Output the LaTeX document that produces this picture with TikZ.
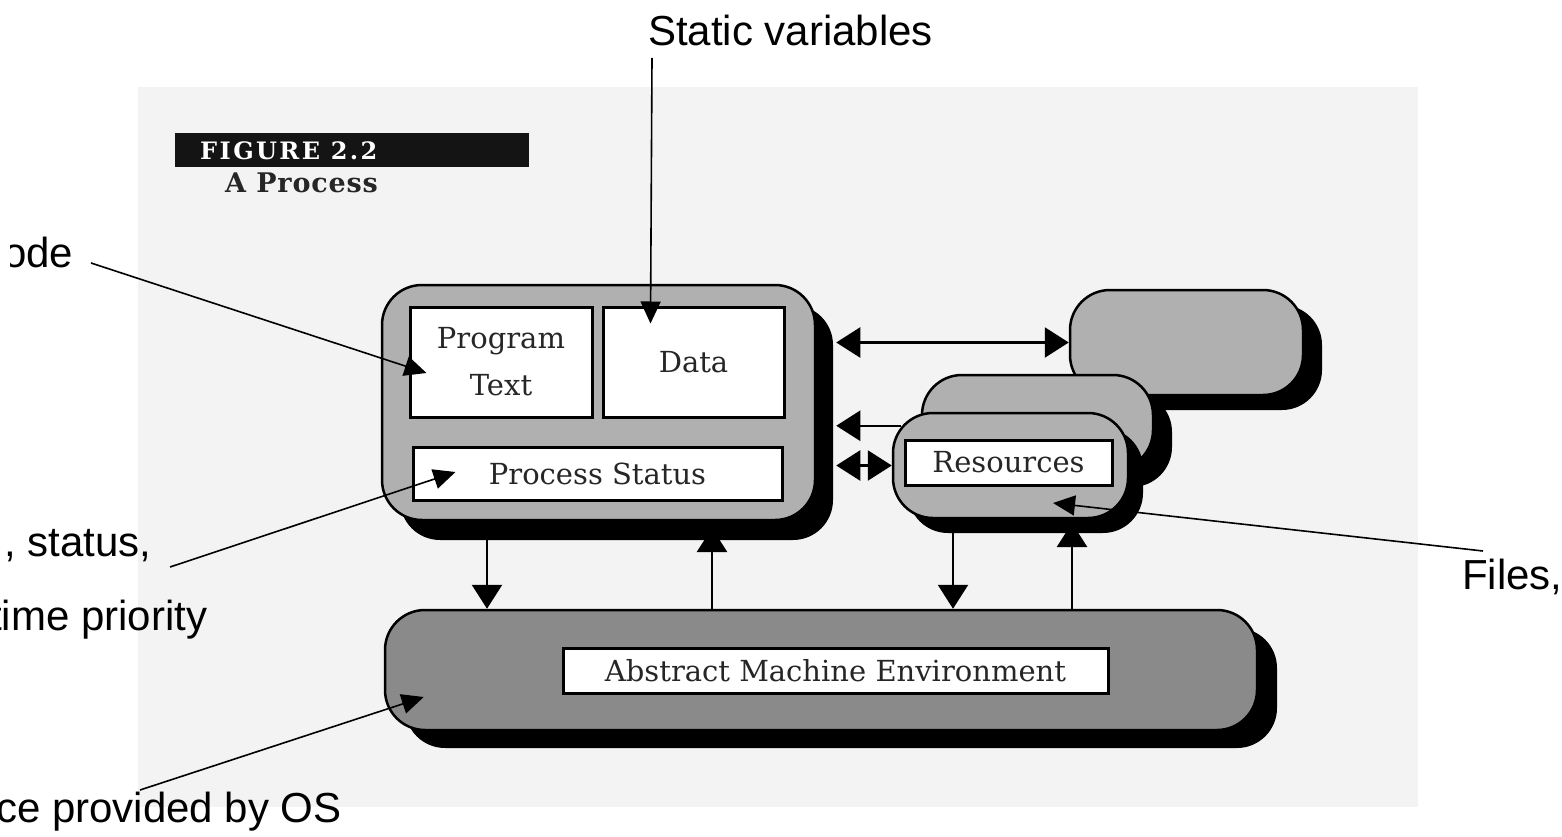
\documentclass[tikz,border=0pt]{standalone}
\usepackage{fontspec}
\usetikzlibrary{shadows,arrows.meta,calc}
\newfontfamily\annfont{Liberation Sans}
\newfontfamily\boxfont{DejaVu Serif}
\newfontfamily\slabfont[LetterSpace=10]{DejaVu Serif}
\newfontfamily\subfont[LetterSpace=3]{DejaVu Serif}
\definecolor{scanbg}{HTML}{F3F3F3}
\definecolor{lightblob}{HTML}{B0B0B0}
\definecolor{darkblob}{HTML}{8A8A8A}
\begin{document}
\begin{tikzpicture}[x=1pt,y=-1pt,
  blob/.style={draw=black, line width=2.5pt, rounded corners=40pt, inner sep=0pt},
  shadowed/.style n args={2}{drop shadow={shadow xshift=#1pt, shadow yshift=-#2pt, fill=black, opacity=1}},
  lab/.style={draw=black, line width=3pt, fill=white, inner sep=0pt, align=center,
              font=\boxfont\fontsize{29}{47}\selectfont, text=black!85},
  conn/.style={line width=2.5pt, -{Triangle[length=24pt,width=30pt]}},
  conntwo/.style={line width=2.5pt, {Triangle[length=24pt,width=30pt]}-{Triangle[length=24pt,width=30pt]}},
  annot/.style={inner sep=0pt, font=\annfont\fontsize{42}{50}\selectfont},
  annarrow/.style={line width=1.6pt, -{Triangle[length=22pt,width=20pt]}}
]
\useasboundingbox (0,0) rectangle (1562,837);
\clip (0,0) rectangle (1562,837);
\fill[white] (0,0) rectangle (1562,837);
\fill[scanbg] (138,87) rectangle (1418,807);

% title block
\node[fill=black!92, inner sep=0pt, minimum width=354pt, minimum height=34pt, anchor=north west] (figbar) at (175,133) {};
\node[anchor=base west, inner sep=0pt, text=white, font=\slabfont\bfseries\fontsize{24}{28}\selectfont] (figtitle) at (200,160) {FIGURE 2.2};
\node[anchor=base west, inner sep=0pt, text=black!85, font=\subfont\bfseries\fontsize{27}{30}\selectfont] (figsub) at (225,193) {A Process};

% abstract machine environment
\node[blob, fill=darkblob, shadowed={20}{18}, minimum width=872pt, minimum height=120pt] (ame) at (821,670) {};
\node[lab, minimum width=545pt, minimum height=45pt] (amelab) at (835.5,670.5) {Abstract Machine Environment};

% column coordinates for vertical connectors
\coordinate (x1) at (487,0);
\coordinate (x2) at (712,0);
\coordinate (x3) at (953,0);
\coordinate (x4) at (1072,0);

% upward connectors (tips hidden under shadows)
\draw[conn] (x2 |- ame.north) -- (x2 |- 0,528);
\draw[conn] (x4 |- ame.north) -- (x4 |- 0,523);

% process
\node[blob, fill=lightblob, shadowed={18}{20}, minimum width=433pt, minimum height=235pt] (proc) at (598.5,402.5) {};
\node[lab, minimum width=182pt, minimum height=110pt] (ptext) at (501,362) {Program\\Text};
\node[lab, minimum width=181pt, minimum height=110pt] (pdata) at (693.5,362) {Data};
\node[lab, minimum width=369pt, minimum height=53pt] (pstat) at (597.5,473.5) {Process Status};

% resources
\node[blob, fill=lightblob, shadowed={19}{15}, minimum width=233pt, minimum height=105pt] (ur) at (1186.5,342.5) {};
\node[blob, fill=lightblob, shadowed={19}{17}, minimum width=231pt, minimum height=95pt] (resb) at (1037.5,422.5) {};
\node[blob, fill=lightblob, shadowed={15}{15}, minimum width=235pt, minimum height=105pt] (resf) at (1010.5,465.5) {};
\node[lab, minimum width=207pt, minimum height=45pt] (reslab) at (1008.5,462.5) {Resources};

% horizontal connectors
\coordinate (pe) at ([xshift=20pt]proc.east);
\coordinate (r2) at ($(resf.north west)+(9,14)$);
\draw[conntwo] (pe |- ur.west) -- (ur.west);
\draw[conn] (r2) -- (pe |- r2);
\draw[conntwo] (pe |- resf.west) -- (resf.west);

% downward connectors
\draw[conn] (x1 |- proc.south) -- (x1 |- ame.north);
\draw[conn] (x3 |- resf.south) -- (x3 |- ame.north);

% annotations
\node[annot, anchor=base west] (tstatic) at (648,46) {Static variables};
\coordinate (sS) at (652,58);
\coordinate (sT) at ($(pdata.north west)+(49,18)$);
\draw[annarrow] (sS) -- (sT);

\begin{scope}
\clip (10,200) rectangle (130,300);
\node[annot, anchor=base west] (tcode) at (3,267) {ode};
\end{scope}
\coordinate (cS) at (91,263);
\coordinate (cT) at ($(ptext.west)+(18,11)$);
\draw[annarrow] (cS) -- (cT);

\node[annot, anchor=base west] (tstat) at (4,556) {, status,};
\node[annot, anchor=base west] (tprio) at (-10,630) {time priority};
\coordinate (stS) at (170,567);
\coordinate (stT) at ($(pstat.west)+(44,-1.5)$);
\draw[annarrow] (stS) -- (stT);

\node[annot, anchor=base west] (tos) at (-4,822) {ce provided by OS};
\coordinate (oS) at (140,790);
\coordinate (oT) at ($(ame.west)+(40,27)$);
\draw[annarrow] (oS) -- (oT);

\node[annot, anchor=base west] (tfiles) at (1462,589) {Files,};
\coordinate (fS) at (1483,551);
\coordinate (fT) at ($(resf.center)+(42.5,37.5)$);
\draw[annarrow] (fS) -- (fT);
\end{tikzpicture}
\end{document}
